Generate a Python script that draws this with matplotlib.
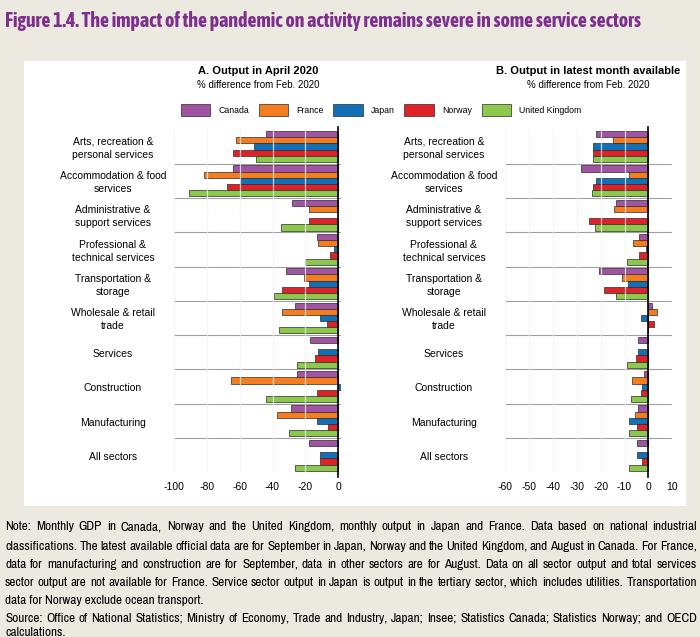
import numpy as np
import matplotlib.pyplot as plt
from matplotlib.patches import Patch, Rectangle
from matplotlib import font_manager
from matplotlib.font_manager import FontProperties

plt.rcParams['font.family'] = ['Liberation Sans', 'DejaVu Sans']
plt.rcParams['axes.unicode_minus'] = False

# condensed face (Arial Narrow look) for the title and notes, if installed
narrow_reg, narrow_bold = None, None
for f in font_manager.fontManager.ttflist:
    if 'Narrow' in f.name or 'Condensed' in f.name:
        bold = f.weight in ('bold', 700) or 'Bold' in f.fname
        italic = f.style != 'normal'
        if italic:
            continue
        if bold and narrow_bold is None:
            narrow_bold = f.fname
        if not bold and narrow_reg is None:
            narrow_reg = f.fname


def narrow_font(size, bold=False):
    path = narrow_bold if bold else narrow_reg
    if path:
        return FontProperties(fname=path, size=size)
    return FontProperties(family='Liberation Sans', size=size,
                          weight='bold' if bold else 'normal')


sectors = ["Arts, recreation &\npersonal services", "Accommodation & food\nservices",
           "Administrative &\nsupport services", "Professional &\ntechnical services",
           "Transportation &\nstorage", "Wholesale & retail\ntrade", "Services",
           "Construction", "Manufacturing", "All sectors"]
countries = ["Canada", "France", "Japan", "Norway", "United Kingdom"]
colors = ["#A154A1", "#F47D20", "#1170B8", "#DF2128", "#8CC84B"]

nan = np.nan
# A. Output in April 2020, % difference from Feb. 2020
april_canada = [-44, -64, -28, -13, -32, -26, -17, -25, -29, -18]
april_france = [-62, -82, -18, -12, -21, -34, nan, -65, -37, nan]
april_japan = [-51, -60, nan, -2.5, -18, -11, -12, 2, -13, -11]
april_norway = [-64, -68, -18, -5, -34, -7, -14, -13, -6, -11]
april_uk = [-50, -91, -35, -20, -39, -36, -25, -44, -30, -26]

# B. Output in latest month available
latest_canada = [-22, -28, -13.5, -4, -20.5, 1.3, -4.5, -1.8, -4.5, -4.7]
latest_france = [-15, -8, -14.5, -6.3, -11, 3.8, nan, -7, -5.4, nan]
latest_japan = [-23, -22, nan, -0.8, -8.6, -3, -4.3, -2.5, -8, -4.7]
latest_norway = [-23, -23, -25, -4, -18.5, 2.4, -5, -3.3, -4.7, -2.5]
latest_uk = [-23, -23.5, -22.3, -9, -13.5, -0.3, -9, -7.4, -8.3, -8.2]

april = [april_canada, april_france, april_japan, april_norway, april_uk]
latest = [latest_canada, latest_france, latest_japan, latest_norway, latest_uk]

W, H = 700, 637
fig = plt.figure(figsize=(W / 100, H / 100), dpi=100)
fig.patch.set_facecolor('#ECE9E0')


def px(x0, y0, x1, y1):
    return [x0 / W, 1 - y1 / H, (x1 - x0) / W, (y1 - y0) / H]


fig.patches.append(Rectangle((24 / W, 1 - 506 / H), 662 / W, 445 / H,
                             transform=fig.transFigure, facecolor='white',
                             edgecolor='none', zorder=-5))


def panel(rect, data, xlim, ticks, title, tx):
    ax = fig.add_axes(rect)
    ax.set_facecolor('white')
    y = np.arange(len(sectors))
    bh = 0.18
    for k, vals in enumerate(data):
        vals = np.array(vals, dtype=float)
        ok = ~np.isnan(vals)
        ax.barh(y[ok] + (k - 2) * bh, vals[ok], height=bh, color=colors[k],
                edgecolor='#2b2b2b', linewidth=0.5, zorder=2)
    ax.set_ylim(len(sectors) - 0.5, -0.5)
    ax.set_xlim(*xlim)
    ax.set_xticks(ticks)
    ax.set_yticks([])
    for t in ticks:
        if t != 0:
            ax.axvline(t, color='#f4f4f4', lw=0.9, alpha=0.75, zorder=3)
    for i in range(len(sectors) - 1):
        ax.axhline(i + 0.5, color='#a0a0a0', lw=0.8, zorder=1)
    ax.axvline(0, ymin=-0.012, ymax=1.008, color='black', lw=1.2, zorder=4, clip_on=False)
    for s in ax.spines.values():
        s.set_visible(False)
    ax.tick_params(axis='x', length=0, labelsize=7.5, pad=7)
    for i, lab in enumerate(sectors):
        ax.text(-0.365, i + 0.05, lab, transform=ax.get_yaxis_transform(), ha='center',
                va='center', fontsize=7.5, linespacing=1.4)
    fig.text(tx / W, 1 - 71 / H, title, ha='center', va='center', fontsize=8, fontweight='bold')
    fig.text(tx / W, 1 - 85 / H, '% difference from Feb. 2020', ha='center', va='center', fontsize=7)
    return ax


panel(px(174, 129.3, 341.3, 472.4), april, (-100, 1.9), range(-100, 1, 20),
      'A. Output in April 2020', 258)
panel(px(505, 129.3, 672.3, 472.4), latest, (-60, 10), range(-60, 11, 10),
      'B. Output in latest month available', 588)

handles = [Patch(facecolor=c, edgecolor='#2b2b2b', linewidth=0.5) for c in colors]
fig.legend(handles, countries, loc='center', bbox_to_anchor=(381 / W, 1 - 110 / H),
           ncol=5, frameon=False, fontsize=6.3, handlelength=3.4, handleheight=1.7,
           handletextpad=0.9, columnspacing=1.1)

renderer = fig.canvas.get_renderer()

title = fig.text(5 / W, 1 - 21 / H,
                 'Figure 1.4. The impact of the pandemic on activity remains severe in some service sectors',
                 fontproperties=narrow_font(13, bold=True), color='#7D2E8E', va='center')
tw = title.get_window_extent(renderer).width
title.set_fontsize(13 * 636 / tw)

notes = [
    ("Note: Monthly GDP in Canada, Norway and the United Kingdom, monthly output in Japan and France. Data based on national industrial", True),
    ("classifications. The latest available official data are for September in Japan, Norway and the United Kingdom, and August in Canada. For France,", True),
    ("data for manufacturing and construction are for September, data in other sectors are for August. Data on all sector output and total services", True),
    ("sector output are not available for France. Service sector output in Japan is output in the tertiary sector, which includes utilities. Transportation", True),
    ("data for Norway exclude ocean transport.", False),
    ("Source: Office of National Statistics; Ministry of Economy, Trade and Industry, Japan; Insee; Statistics Canada; Statistics Norway; and OECD", True),
    ("calculations.", False),
]
note_y = [527, 546, 564, 582, 600, 618, 633]

# note size: the longest line just fits the page width
probe = fig.text(0, 0, notes[3][0], fontproperties=narrow_font(8))
note_fs = min(9.5, 8 * 688 / probe.get_window_extent(renderer).width)
probe.remove()

for (line, justify), yy in zip(notes, note_y):
    if not justify:
        fig.text(5 / W, 1 - yy / H, line, fontproperties=narrow_font(note_fs), va='center')
        continue
    words = line.split(' ')
    texts = [fig.text(0, 1 - yy / H, w, fontproperties=narrow_font(note_fs), va='center')
             for w in words]
    widths = [t.get_window_extent(renderer).width for t in texts]
    gap = (697 - 5 - sum(widths)) / (len(words) - 1)
    x = 5
    for t, w in zip(texts, widths):
        t.set_x(x / W)
        x += w + gap

fig.savefig('out.png', dpi=100, facecolor=fig.get_facecolor())
